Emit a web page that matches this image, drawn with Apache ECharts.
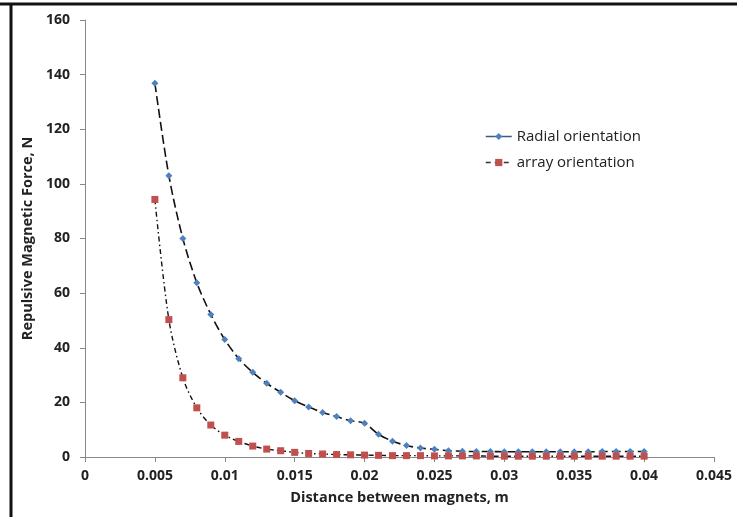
<!DOCTYPE html>
<html><head><meta charset="utf-8">
<script src="https://cdn.jsdelivr.net/npm/echarts@6/dist/echarts.min.js"></script>
<style>html,body{margin:0;padding:0;background:#fff}#c{width:737px;height:517px}</style>
</head><body><div id="c"></div>
<script>
const distances = [0.005,0.006,0.007,0.008,0.009,0.010,0.011,0.012,0.013,0.014,0.015,0.016,0.017,0.018,0.019,0.020,0.021,0.022,0.023,0.024,0.025,0.026,0.027,0.028,0.029,0.030,0.031,0.032,0.033,0.034,0.035,0.036,0.037,0.038,0.039,0.040];
const radialForce = [136.8,103,80,63.8,52.2,43,36,31,27,23.7,20.6,18.3,16.3,14.8,13.3,12.4,8.3,5.8,4.2,3.3,2.8,2.3,2.1,2.0,2.0,1.9,1.9,1.9,1.9,1.9,1.9,1.9,2.0,2.0,2.0,2.0];
const arrayForce = [94.3,50.3,29,18,11.7,8,5.7,4,2.9,2.3,1.7,1.3,1.1,0.9,0.8,0.7,0.6,0.5,0.5,0.5,0.4,0.4,0.4,0.4,0.3,0.3,0.3,0.3,0.3,0.3,0.3,0.3,0.3,0.3,0.3,0.3];
const xTicks = [0,0.005,0.01,0.015,0.02,0.025,0.03,0.035,0.04,0.045];
const seriesNames = ['Radial orientation','array orientation'];

const font = 'Open Sans';
const chart = echarts.init(document.getElementById('c'));
chart.setOption({
  animation:false,
  backgroundColor:'#fff',
  graphic:[
    {type:'line',shape:{x1:0,y1:4,x2:737,y2:4},style:{stroke:'#111',lineWidth:3}},
    {type:'line',shape:{x1:11,y1:3,x2:11,y2:517},style:{stroke:'#111',lineWidth:3}}
  ],
  grid:{left:85,right:23,top:20,bottom:60,containLabel:false},
  legend:{
    orient:'vertical',left:480,top:124,itemGap:11,itemWidth:26,itemHeight:9,
    textStyle:{fontFamily:font,fontSize:15,color:'#222'},
    data:[
      {name:seriesNames[0],itemStyle:{color:'#4F81BD'},lineStyle:{color:'#3c5a86',type:'solid',width:1.5}},
      {name:seriesNames[1],itemStyle:{color:'#C0504D'},lineStyle:{color:'#333',type:[5,4],width:1.5}}
    ]
  },
  xAxis:{
    type:'value',min:0,max:0.045,interval:0.005,
    name:'Distance between magnets, m',nameLocation:'middle',nameGap:33,
    nameTextStyle:{fontFamily:font,fontSize:14.5,fontWeight:'bold',color:'#222'},
    axisLine:{lineStyle:{color:'#888',width:1}},
    axisTick:{length:5,lineStyle:{color:'#888'}},
    splitLine:{show:false},
    axisLabel:{margin:12,fontFamily:font,fontSize:14,fontWeight:'bold',color:'#222',
      formatter:v=>{const t=xTicks.find(x=>Math.abs(x-v)<1e-9);return t===undefined?'':String(t);}}
  },
  yAxis:{
    type:'value',min:0,max:160,interval:20,
    name:'Repulsive Magnetic Force, N',nameLocation:'middle',nameGap:43,
    nameTextStyle:{fontFamily:font,fontSize:14.5,fontWeight:'bold',color:'#222'},
    axisLine:{show:true,lineStyle:{color:'#888',width:1}},
    axisTick:{show:true,length:5,lineStyle:{color:'#888'}},
    splitLine:{show:false},
    axisLabel:{margin:15,fontFamily:font,fontSize:14,fontWeight:'bold',color:'#222'}
  },
  series:[
    {name:seriesNames[0],type:'line',smooth:0.3,
      data:distances.map((d,i)=>[d,radialForce[i]]),
      symbol:'diamond',symbolSize:7,
      itemStyle:{color:'#4F81BD'},
      lineStyle:{color:'#111',width:1.6,type:[9,4]}},
    {name:seriesNames[1],type:'line',smooth:0.3,
      data:distances.map((d,i)=>[d,arrayForce[i]]),
      symbol:'rect',symbolSize:7,
      itemStyle:{color:'#C0504D'},
      lineStyle:{color:'#111',width:1.4,type:[5,3,1.5,3]}}
  ]
});
</script></body></html>
